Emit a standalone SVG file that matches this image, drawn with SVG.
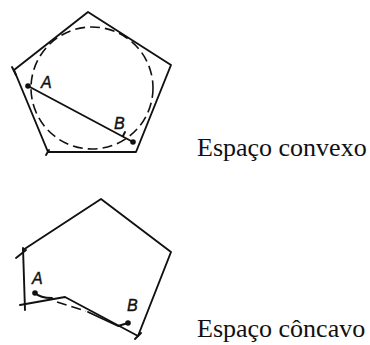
<svg xmlns="http://www.w3.org/2000/svg" width="370" height="345" viewBox="0 0 370 345">
<style>
.ln{fill:none;stroke:#111;stroke-width:1.9;stroke-linecap:round;stroke-linejoin:round}
.dash{fill:none;stroke:#111;stroke-width:1.6;stroke-dasharray:10 5}
.pt{fill:#111}
.lbl{font-family:"Liberation Sans",Arial,sans-serif;font-style:italic;font-size:16px;fill:#111;stroke:#111;stroke-width:0.4}
.cap{font-family:"Liberation Serif","Times New Roman",serif;font-size:26px;fill:#111}
</style>
<rect width="370" height="345" fill="#fff"/>
<g id="convex">
<polygon class="ln" points="88,12 171,65 136,152 48,152 14,70"/>
<line class="ln" x1="12" y1="67" x2="16" y2="75"/>
<line class="ln" x1="46" y1="155" x2="49" y2="150"/>
<circle class="dash" cx="92" cy="88" r="61"/>
</g>
<g id="convex-path">
<line class="ln" x1="28" y1="86" x2="133" y2="142"/>
<line class="ln" x1="123" y1="136" x2="125" y2="132"/>
<circle class="pt" cx="28" cy="86" r="2.8"/>
<circle class="pt" cx="133" cy="142" r="2.8"/>
<text class="lbl" x="41" y="88">A</text>
<text class="lbl" x="114" y="129">B</text>
</g>
<g id="concave">
<polyline class="ln" points="23,250 101,199 171,252 138,336 65,297 20,305"/>
<line class="ln" x1="16" y1="258" x2="26" y2="250"/>
<line class="ln" x1="23" y1="248" x2="25" y2="310"/>
<line class="ln" x1="135" y1="339" x2="141" y2="333"/>
</g>
<g id="concave-path">
<path class="ln" d="M35,293 Q40,298 52,298"/>
<line class="dash" x1="57" y1="302" x2="86" y2="311" stroke-dasharray="6 4"/>
<path class="ln" d="M88,312 L118,326 L128,323"/>
<circle class="pt" cx="35" cy="293" r="2.8"/>
<circle class="pt" cx="128" cy="323" r="2.8"/>
<text class="lbl" x="32" y="284">A</text>
<text class="lbl" x="127" y="311">B</text>
</g>
<g id="labels">
<text class="cap" x="197" y="156">Espaço convexo</text>
<text class="cap" x="197" y="337">Espaço côncavo</text>
</g>
</svg>
